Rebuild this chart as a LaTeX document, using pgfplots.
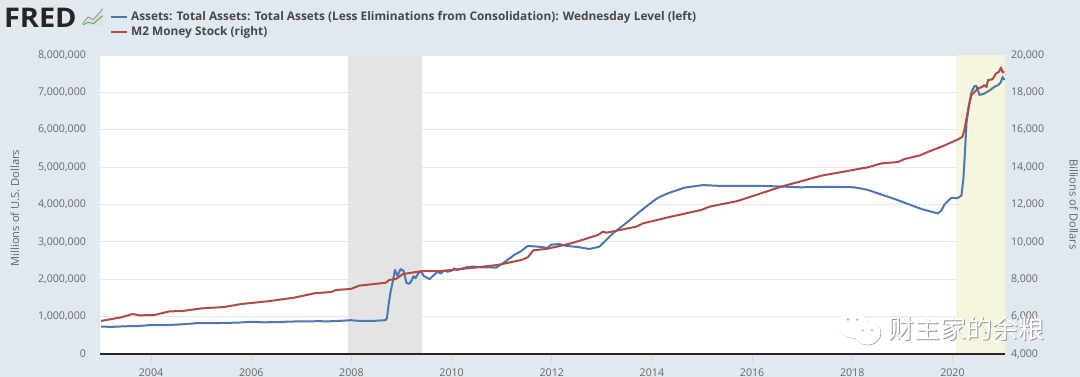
\documentclass[border=0pt]{standalone}
\usepackage{fontspec}
\setmainfont{Open Sans}
\newfontfamily\cjk{Noto Sans CJK SC}
\usepackage{pgfplots}
\usepackage{pgfplotstable}
\pgfplotsset{compat=1.18}
\definecolor{fredbg}{HTML}{E1E9F0}
\definecolor{gridc}{HTML}{E6E6E6}
\definecolor{tickc}{HTML}{666666}
\definecolor{tickm}{HTML}{CCD6EB}
\definecolor{fblue}{HTML}{4A78B2}
\definecolor{fred}{HTML}{B04A48}
\definecolor{recess}{HTML}{E4E4E4}
\definecolor{covid}{HTML}{F5F4DC}
\pgfplotstableread{
x y
2003.00 730000
2003.25 728000
2003.50 742000
2003.75 749000
2004.00 776000
2004.25 770000
2004.50 785000
2004.75 805000
2004.93 829000
2005.25 826000
2005.50 832000
2005.75 840000
2005.99 860000
2006.25 848000
2006.50 852000
2006.75 866000
2007.00 875000
2007.25 870000
2007.30 882000
2007.50 872000
2007.75 885000
2008.00 905000
2008.10 890000
2008.30 885000
2008.50 890000
2008.68 905000
2008.71 960000
2008.74 1300000
2008.78 1650000
2008.82 1900000
2008.87 2250000
2008.92 2090000
2008.98 2270000
2009.04 2230000
2009.10 1900000
2009.16 1880000
2009.20 1960000
2009.24 2080000
2009.28 2030000
2009.34 2170000
2009.39 2210000
2009.45 2080000
2009.50 2050000
2009.56 2000000
2009.62 2080000
2009.72 2200000
2009.78 2150000
2009.85 2230000
2009.92 2200000
2010.00 2230000
2010.05 2290000
2010.12 2250000
2010.32 2330000
2010.45 2340000
2010.58 2320000
2010.75 2320000
2010.89 2310000
2011.05 2450000
2011.25 2650000
2011.39 2756000
2011.52 2890000
2011.70 2875000
2011.85 2854000
2011.90 2830000
2011.99 2925000
2012.15 2943000
2012.30 2890000
2012.52 2863000
2012.75 2810000
2012.95 2870000
2013.08 3040000
2013.22 3227000
2013.52 3540000
2013.75 3800000
2013.95 4013000
2014.12 4180000
2014.32 4300000
2014.65 4450000
2015.02 4520000
2015.40 4495000
2015.70 4500000
2016.18 4500000
2016.58 4480000
2016.98 4460000
2017.50 4475000
2018.05 4460000
2018.31 4390000
2018.84 4150000
2019.38 3880000
2019.71 3760000
2019.78 3840000
2019.84 4000000
2019.90 4080000
2019.98 4180000
2020.10 4170000
2020.18 4240000
2020.22 4700000
2020.25 5400000
2020.28 6170000
2020.33 6650000
2020.38 7000000
2020.44 7170000
2020.48 7170000
2020.54 6930000
2020.64 6970000
2020.75 7060000
2020.84 7150000
2020.92 7200000
2020.97 7280000
2021.00 7410000
2021.04 7330000
}\assets
\pgfplotstableread{
x y
2003.00 5766
2003.40 5963
2003.63 6140
2003.77 6070
2004.06 6080
2004.36 6280
2004.63 6300
2005.00 6440
2005.46 6515
2005.80 6675
2006.33 6820
2006.86 7015
2007.26 7250
2007.60 7318
2007.69 7425
2007.99 7480
2008.15 7655
2008.69 7815
2008.75 7960
2008.89 8013
2009.03 8280
2009.42 8440
2009.79 8440
2010.45 8620
2010.92 8763
2011.39 9030
2011.52 9170
2011.63 9545
2011.92 9635
2012.39 9923
2012.92 10367
2013.02 10545
2013.09 10490
2013.69 10813
2013.82 10990
2014.38 11347
2014.98 11706
2015.15 11883
2015.71 12187
2016.18 12598
2016.58 12953
2017.38 13540
2018.31 13990
2018.58 14200
2018.91 14270
2019.04 14430
2019.34 14620
2019.61 14920
2019.78 15090
2020.04 15400
2020.11 15480
2020.20 15625
2020.24 16000
2020.28 16600
2020.33 17300
2020.38 17860
2020.51 18210
2020.60 18300
2020.64 18390
2020.68 18280
2020.71 18660
2020.80 18700
2020.87 19010
2020.93 19100
2020.97 19335
2021.00 19080
2021.04 19100
}\mtwo
\pgfplotsset{
  base/.style={
    scale only axis, width=678.75pt, height=224.25pt,
    at={(75pt,17.25pt)}, anchor=south west,
    xmin=2002.98, xmax=2021.05,
    tick label style={font=\fontsize{8}{10}\selectfont, text=tickc, /pgf/number format/assume math mode=true},
    clip=true,
  }
}
\begin{document}
\begin{tikzpicture}[x=1pt,y=1pt]
\path[use as bounding box, fill=fredbg] (0,0) rectangle (810pt,282.75pt);
\begin{axis}[base,
  axis background/.style={fill=white},
  axis line style={draw=none},
  axis x line*=bottom, axis y line*=left,
  xtick={2004,2006,...,2020},
  xticklabel style={/pgf/number format/1000 sep={}, yshift=-1.5pt},
  x tick style={draw=tickm, line width=0.75pt},
  major tick length=6pt,
  tick align=outside,
  ymin=0, ymax=8000000,
  ytick={0,1000000,...,8000000},
  scaled y ticks=false,
  yticklabel style={/pgf/number format/fixed, /pgf/number format/1000 sep={,}, xshift=-1pt},
  y tick style={draw=none},
  ymajorgrids, grid style={gridc, line width=0.75pt},
  ylabel={Millions of U.S. Dollars},
  every axis y label/.style={at={(axis description cs:-0.094,0.488)}, rotate=90, anchor=center, font=\fontsize{8.4}{10}\selectfont, text=tickc},
]
\addplot[fill=recess, draw=none] coordinates {(2007.93,0) (2007.93,8000000) (2009.41,8000000) (2009.41,0)} \closedcycle;
\addplot[fill=covid, draw=none] coordinates {(2020.08,0) (2020.08,8000000) (2021.05,8000000) (2021.05,0)} \closedcycle;
\addplot[fblue, line width=1.5pt, line join=round] table[x=x,y=y] {\assets};
\end{axis}
\begin{axis}[base,
  axis x line=none,
  axis y line*=right,
  axis line style={draw=none},
  ymin=4000, ymax=20000,
  ytick={4000,6000,...,20000},
  scaled y ticks=false,
  yticklabel style={/pgf/number format/fixed, /pgf/number format/1000 sep={,}, xshift=1pt},
  y tick style={draw=none},
  major tick length=6pt,
  ylabel={Billions of Dollars},
  every axis y label/.style={at={(axis description cs:1.076,0.5)}, rotate=-90, anchor=center, font=\fontsize{8.4}{10}\selectfont, text=tickc},
  legend style={at={(axis description cs:0.0115,1.155)}, anchor=north west, draw=none, fill=none,
     font=\fontsize{8.9}{10}\selectfont\bfseries\color{tickc!70!black}, row sep=-1pt, inner sep=0pt, outer sep=0pt},
  legend cell align=left,
  legend image code/.code={\draw[#1, line width=1.5pt] (0,0) -- (12pt,0);},
]
\addlegendimage{fblue}
\addlegendentry{Assets: Total Assets: Total Assets (Less Eliminations from Consolidation): Wednesday Level (left)}
\addlegendimage{fred}
\addlegendentry{M2 Money Stock (right)}
\addplot[fred, line width=1.5pt, line join=round, forget plot] table[x=x,y=y] {\mtwo};
\end{axis}
\draw[black!85, line width=1.6pt] (75pt,17.25pt) -- (753.75pt,17.25pt);
% FRED logo
\node[anchor=west, inner sep=0pt, text=black!85] at (2.8pt,269pt) {\resizebox{54.5pt}{14.5pt}{\bfseries FRED}};
\begin{scope}
\fill[gray!25] (62pt,264pt) -- (66pt,269pt) -- (70pt,267pt) -- (77pt,276pt) -- (77pt,264pt) -- cycle;
\draw[gray!80, line width=0.7pt] (62pt,265pt) -- (66pt,270pt) -- (70pt,268pt) -- (77pt,276pt);
\draw[green!50!gray, line width=0.7pt] (62pt,264pt) -- (66pt,266pt) -- (70pt,265pt) -- (77pt,271pt);
\end{scope}
% watermark
\begin{scope}
\foreach \r/\c in {0.45pt/gray!80, 0pt/white} {
  \fill[\c] ({640pt+\r},{39pt-\r}) ellipse [x radius=11.25pt, y radius=9.75pt];
  \fill[\c] ({650.5pt+\r},{33.2pt-\r}) ellipse [x radius=10pt, y radius=9pt];
  \node[inner sep=0pt, text=\c] at ({725pt+\r},{36.4pt-\r}) {\fontsize{19.5}{19.5}\selectfont\cjk 财主家的余粮};
}
\fill[gray!70] (636pt,43pt) circle (0.9pt) (643pt,43pt) circle (0.9pt) (647pt,35pt) circle (0.8pt) (654pt,35pt) circle (0.8pt);
\end{scope}
\end{tikzpicture}
\end{document}
